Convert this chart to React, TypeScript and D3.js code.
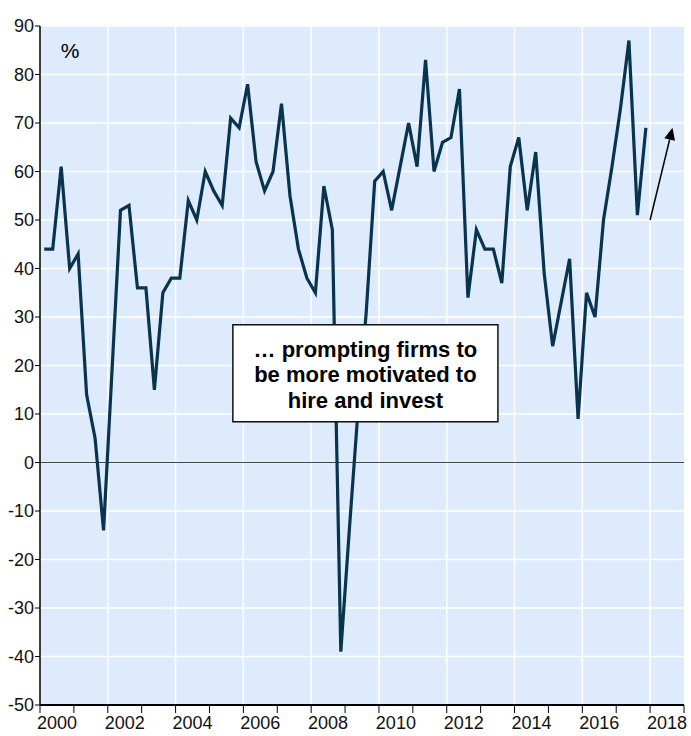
import React from "react";
import * as d3 from "d3";

// quarterly readings, 2000Q1 .. 2017Q4
const startYear = 2000;
const values: number[] = [
  44, 44, 61, 40,
  43, 14, 5, -14,
  19, 52, 53, 36,
  36, 15, 35, 38,
  38, 54, 50, 60,
  56, 53, 71, 69,
  78, 62, 56, 60,
  74, 55, 44, 38,
  35, 57, 48, -39,
  -14, 10, 31, 58,
  60, 52, 61, 70,
  61, 83, 60, 66,
  67, 77, 34, 48,
  44, 44, 37, 61,
  67, 52, 64, 39,
  24, 33, 42, 9,
  35, 30, 50, 61,
  73, 87, 51, 69,
];

const yTicks = [90, 80, 70, 60, 50, 40, 30, 20, 10, 0, -10, -20, -30, -40, -50];
const yearLabels = [2000, 2002, 2004, 2006, 2008, 2010, 2012, 2014, 2016, 2018];
const gridYears = [2002, 2004, 2006, 2008, 2010, 2012, 2014, 2016, 2018];
const boxLines = ["\u2026 prompting firms to", "be more motivated to", "hire and invest"];
// annotation box and arrow, in data units
const boxX = [2005.69, 2013.51];
const boxY = [28.4, 8.4];
const arrowFrom = [2018.0, 50];
const arrowTo = [2018.66, 69];

const W = 691;
const H = 736;
const margin = { top: 26, right: 7, bottom: 31, left: 40 };

const App: React.FC = () => {
  const x = d3.scaleLinear().domain([2000, 2019]).range([margin.left, W - margin.right]);
  const y = d3.scaleLinear().domain([-50, 90]).range([H - margin.bottom, margin.top]);

  const pts: [number, number][] = values.map((v, i) => [startYear + (i + 0.5) / 4, v]);
  const line = d3.line<[number, number]>().x(d => x(d[0])).y(d => y(d[1]));

  const years = d3.range(2000, 2020);

  // arrow head
  const ax1 = x(arrowFrom[0]), ay1 = y(arrowFrom[1]);
  const ax2 = x(arrowTo[0]), ay2 = y(arrowTo[1]);
  const ang = Math.atan2(ay2 - ay1, ax2 - ax1);
  const hl = 12, hw = 5.5;
  const bx = ax2 - hl * Math.cos(ang), by = ay2 - hl * Math.sin(ang);
  const head = [
    [ax2, ay2],
    [bx + hw * Math.sin(ang), by - hw * Math.cos(ang)],
    [bx - hw * Math.sin(ang), by + hw * Math.cos(ang)],
  ].map(p => p.join(",")).join(" ");

  const narrow = "'Liberation Sans Narrow', 'Arial Narrow', 'Liberation Sans', Arial, sans-serif";
  const x0 = margin.left, x1 = W - margin.right;
  const y0 = margin.top, y1 = H - margin.bottom;
  const boxCx = (x(boxX[0]) + x(boxX[1])) / 2;

  return (
    <svg width={W} height={H} style={{ position: "absolute", left: 0, top: 0, background: "#fff" }}>
      <rect x={x0} y={y0} width={x1 - x0} height={y1 - y0} fill="#DDEBFC" />
      {yTicks.map(t => (
        <line key={"gy" + t} x1={x0} x2={x1} y1={y(t)} y2={y(t)} stroke="#fff" strokeWidth={1.5} />
      ))}
      {gridYears.map(t => (
        <line key={"gx" + t} x1={x(t)} x2={x(t)} y1={y0} y2={y1} stroke="#fff" strokeWidth={1.5} />
      ))}
      <line x1={x0} x2={x1} y1={y(0)} y2={y(0)} stroke="#444" strokeWidth={1.2} />

      <path d={line(pts) ?? ""} fill="none" stroke="#08344F" strokeWidth={3.2} strokeLinejoin="miter" />

      <rect x={x(boxX[0])} y={y(boxY[0])} width={x(boxX[1]) - x(boxX[0])} height={y(boxY[1]) - y(boxY[0])}
        fill="#fff" stroke="#111" strokeWidth={1.5} />
      {boxLines.map((s, i) => (
        <text key={s} x={boxCx} y={y(boxY[0]) + 32 + i * 25.5} textAnchor="middle"
          fontFamily="'Liberation Sans', Arial, sans-serif" fontWeight="bold" fontSize={22} fill="#000">{s}</text>
      ))}

      <line x1={ax1} y1={ay1} x2={bx} y2={by} stroke="#000" strokeWidth={1.5} />
      <polygon points={head} fill="#000" />

      <text x={70} y={58} textAnchor="middle" fontFamily="'Liberation Sans', Arial, sans-serif" fontSize={21}>%</text>

      {/* axes */}
      <line x1={x0} x2={x0} y1={y0} y2={y1} stroke="#000" strokeWidth={1.5} />
      <line x1={x0} x2={x1} y1={y1} y2={y1} stroke="#000" strokeWidth={2} />
      {yTicks.map(t => (
        <g key={"ty" + t}>
          <line x1={x0 - 5} x2={x0} y1={y(t)} y2={y(t)} stroke="#000" strokeWidth={1} />
          <text x={x0 - 6} y={y(t) + 6} textAnchor="end" fontFamily={narrow} fontSize={18} fill="#111">{t}</text>
        </g>
      ))}
      {years.map(t => (
        <line key={"tx" + t} x1={x(t)} x2={x(t)} y1={y1} y2={y1 + 8} stroke="#000" strokeWidth={1} />
      ))}
      {yearLabels.map(t => (
        <text key={"lx" + t} x={x(t + 0.5)} y={y1 + 24} textAnchor="middle" fontFamily={narrow} fontSize={18} fill="#111">{t}</text>
      ))}
    </svg>
  );
};

export default App;
